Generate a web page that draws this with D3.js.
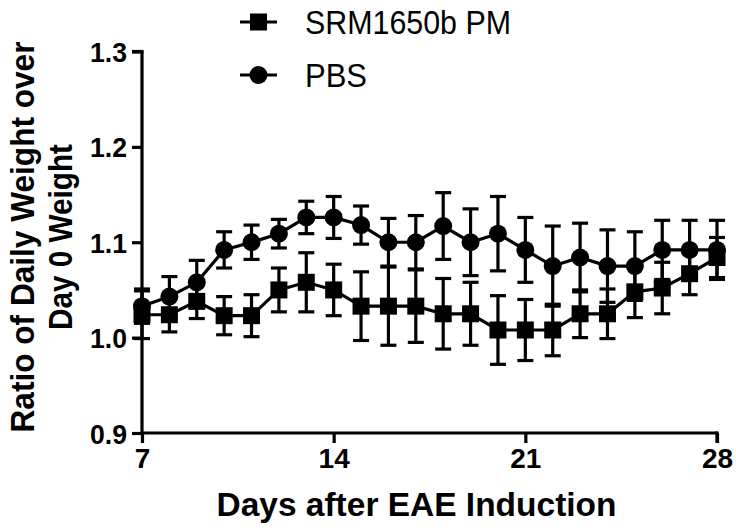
<!DOCTYPE html>
<html>
<head>
<meta charset="utf-8">
<script src="https://cdn.jsdelivr.net/npm/d3@7"></script>
<style>
  html, body { margin: 0; padding: 0; background: #fff; }
  svg { display: block; font-family: "Liberation Sans", Arial, Helvetica, sans-serif; }
</style>
</head>
<body>
<svg id="chart" width="736" height="528"></svg>
<script>
// ---- data ----
const days = [7, 8, 9, 10, 11, 12, 13, 14, 15, 16, 17, 18, 19, 20, 21, 22, 23, 24, 25, 26, 27, 28];
const srmMean = [1.024, 1.024, 1.038, 1.023, 1.023, 1.050, 1.058, 1.050, 1.033, 1.033, 1.033, 1.025, 1.025, 1.008, 1.008, 1.008, 1.025, 1.025, 1.048, 1.052, 1.067, 1.084];
const srmErr  = [0.025, 0.018, 0.018, 0.020, 0.022, 0.023, 0.031, 0.027, 0.036, 0.041, 0.038, 0.037, 0.033, 0.036, 0.032, 0.027, 0.025, 0.026, 0.027, 0.027, 0.022, 0.021];
const pbsMean = [1.033, 1.043, 1.058, 1.092, 1.100, 1.109, 1.126, 1.126, 1.118, 1.100, 1.100, 1.117, 1.100, 1.109, 1.092, 1.075, 1.084, 1.075, 1.075, 1.092, 1.092, 1.092];
const pbsErr  = [0.018, 0.021, 0.023, 0.019, 0.018, 0.015, 0.017, 0.022, 0.020, 0.025, 0.028, 0.035, 0.035, 0.039, 0.034, 0.042, 0.036, 0.038, 0.036, 0.031, 0.031, 0.031];
const yTicks = [0.9, 1.0, 1.1, 1.2, 1.3];
const xTicks = [7, 14, 21, 28];
const seriesNames = ["SRM1650b PM", "PBS"];
const xTitle = "Days after EAE Induction";
const yTitle = ["Ratio of Daily Weight over", "Day 0 Weight"];

// ---- layout ----
const svg = d3.select("#chart");
const x = d3.scaleLinear().domain([7, 28]).range([142, 717]);
const y = d3.scaleLinear().domain([0.9, 1.3]).range([433, 51.5]);
const SW = 3.2;

// axes
const xAxis = svg.append("g").attr("transform", `translate(0,${y(0.9)})`)
  .call(d3.axisBottom(x).tickValues(xTicks).tickSize(10).tickPadding(5).tickFormat(d3.format("d")));
const yAxis = svg.append("g").attr("transform", `translate(${x(7)},0)`)
  .call(d3.axisLeft(y).tickValues(yTicks).tickSize(10).tickPadding(5).tickFormat(d3.format(".1f")));
[xAxis, yAxis].forEach(g => {
  g.select(".domain").attr("stroke", "#000").attr("stroke-width", SW)
    .attr("d", g === xAxis ? `M${x(7)},0H${x(28)}` : `M0,${y(0.9)}V${y(1.3)}`);
  g.selectAll(".tick line").attr("stroke", "#000").attr("stroke-width", SW);
  g.selectAll(".tick text").attr("fill", "#000").attr("font-size", 28).attr("font-weight", "bold")
    .attr("font-family", "'Liberation Sans', Arial, sans-serif");
});
yAxis.selectAll(".tick text").attr("dy", "0.36em").attr("textLength", 37).attr("lengthAdjust", "spacingAndGlyphs");
xAxis.selectAll(".tick text").attr("dy", "0.72em");
// square cap on axis corner
svg.append("line").attr("x1", x(7) - 10).attr("x2", x(7) + SW/2).attr("y1", y(1.3)).attr("y2", y(1.3))
  .attr("stroke", "#000").attr("stroke-width", SW);
svg.append("line").attr("x1", x(28)).attr("x2", x(28)).attr("y1", y(0.9) - SW/2).attr("y2", y(0.9) + 10)
  .attr("stroke", "#000").attr("stroke-width", SW);

// titles
svg.append("text").attr("x", (x(7) + x(28)) / 2 - 13).attr("y", 516).attr("text-anchor", "middle")
  .attr("font-size", 34).attr("font-weight", "bold").attr("textLength", 400).attr("lengthAdjust", "spacingAndGlyphs")
  .text(xTitle);
const yt = svg.append("g").attr("transform", "translate(0,237) rotate(-90)");
yt.append("text").attr("x", 0).attr("y", 34).attr("text-anchor", "middle")
  .attr("font-size", 33).attr("font-weight", "bold").attr("textLength", 391).attr("lengthAdjust", "spacingAndGlyphs")
  .text(yTitle[0]);
yt.append("text").attr("x", 0).attr("y", 72).attr("text-anchor", "middle")
  .attr("font-size", 33).attr("font-weight", "bold").attr("textLength", 186).attr("lengthAdjust", "spacingAndGlyphs")
  .text(yTitle[1]);

// series
const capW = 16;
function drawSeries(means, errs, shape) {
  const g = svg.append("g");
  const data = days.map((d, i) => ({ d, m: means[i], e: errs[i] }));
  data.forEach(p => {
    const cx = x(p.d), yt = y(p.m + p.e), yb = y(p.m - p.e);
    g.append("line").attr("x1", cx).attr("x2", cx).attr("y1", yt).attr("y2", yb).attr("stroke", "#000").attr("stroke-width", SW);
    g.append("line").attr("x1", cx - capW/2).attr("x2", cx + capW/2).attr("y1", yt).attr("y2", yt).attr("stroke", "#000").attr("stroke-width", SW);
    g.append("line").attr("x1", cx - capW/2).attr("x2", cx + capW/2).attr("y1", yb).attr("y2", yb).attr("stroke", "#000").attr("stroke-width", SW);
  });
  g.append("path").datum(data)
    .attr("d", d3.line().x(p => x(p.d)).y(p => y(p.m)))
    .attr("fill", "none").attr("stroke", "#000").attr("stroke-width", SW);
  if (shape === "square") {
    g.selectAll("rect").data(data).join("rect")
      .attr("x", p => x(p.d) - 8.5).attr("y", p => y(p.m) - 8.5).attr("width", 17).attr("height", 17).attr("fill", "#000");
  } else {
    g.selectAll("circle").data(data).join("circle")
      .attr("cx", p => x(p.d)).attr("cy", p => y(p.m)).attr("r", 9).attr("fill", "#000");
  }
}
drawSeries(srmMean, srmErr, "square");
drawSeries(pbsMean, pbsErr, "circle");

// legend
const leg = [{ name: seriesNames[0], shape: "square", cy: 22, w: 206 }, { name: seriesNames[1], shape: "circle", cy: 75, w: 62 }];
leg.forEach(l => {
  const g = svg.append("g");
  g.append("line").attr("x1", 240).attr("x2", 277).attr("y1", l.cy).attr("y2", l.cy).attr("stroke", "#000").attr("stroke-width", SW);
  if (l.shape === "square") g.append("rect").attr("x", 258.5 - 8.5).attr("y", l.cy - 8.5).attr("width", 17).attr("height", 17).attr("fill", "#000");
  else g.append("circle").attr("cx", 258.5).attr("cy", l.cy).attr("r", 9).attr("fill", "#000");
  g.append("text").attr("x", 305).attr("y", l.cy + 12).attr("font-size", 33)
    .attr("textLength", l.w).attr("lengthAdjust", "spacingAndGlyphs").text(l.name);
});
</script>
</body>
</html>
